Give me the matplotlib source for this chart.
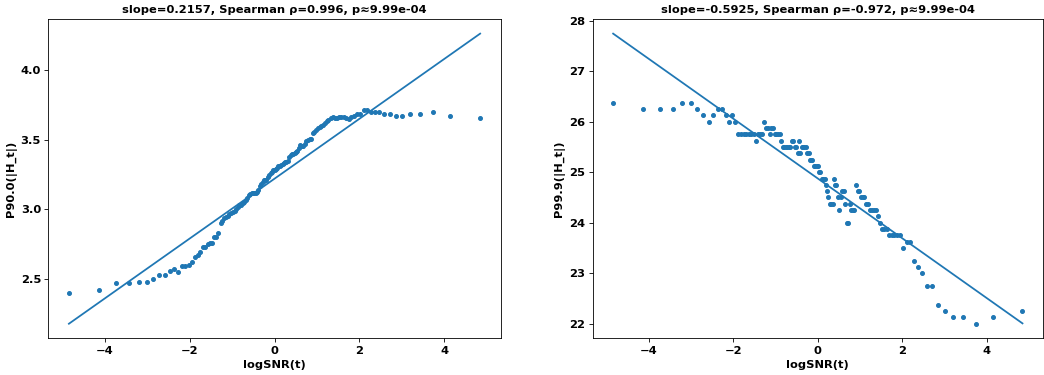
import numpy as np
import matplotlib.pyplot as plt

logsnr = [-4.84, -4.14, -3.73, -3.43, -3.20, -3.01, -2.85, -2.71, -2.58, -2.47,
          -2.36, -2.27, -2.18, -2.10, -2.02, -1.95, -1.88, -1.81, -1.75, -1.69,
          -1.63, -1.57, -1.52, -1.47, -1.42, -1.37, -1.32, -1.27, -1.23, -1.18,
          -1.14, -1.10, -1.06, -1.02, -0.98, -0.94, -0.90, -0.86, -0.83, -0.79,
          -0.75, -0.72, -0.68, -0.65, -0.61, -0.58, -0.54, -0.51, -0.48, -0.44,
          -0.41, -0.38, -0.35, -0.32, -0.28, -0.25, -0.22, -0.19, -0.16, -0.13,
          -0.09, -0.06, -0.03, 0.00, 0.03, 0.06, 0.09, 0.13, 0.16, 0.19,
          0.22, 0.25, 0.28, 0.32, 0.35, 0.38, 0.41, 0.44, 0.48, 0.51,
          0.54, 0.58, 0.61, 0.65, 0.68, 0.72, 0.75, 0.79, 0.83, 0.86,
          0.90, 0.94, 0.98, 1.02, 1.06, 1.10, 1.14, 1.18, 1.23, 1.27,
          1.32, 1.37, 1.42, 1.47, 1.52, 1.57, 1.63, 1.69, 1.75, 1.81,
          1.88, 1.95, 2.02, 2.10, 2.18, 2.27, 2.36, 2.47, 2.58, 2.71,
          2.85, 3.01, 3.20, 3.43, 3.73, 4.14, 4.84]

p90 = [2.40, 2.42, 2.47, 2.47, 2.48, 2.48, 2.50, 2.53, 2.53, 2.56,
       2.57, 2.55, 2.59, 2.59, 2.60, 2.62, 2.66, 2.67, 2.69, 2.73,
       2.73, 2.75, 2.755, 2.76, 2.80, 2.80, 2.83, 2.905, 2.92, 2.935,
       2.945, 2.955, 2.965, 2.975, 2.98, 2.985, 3.00, 3.02, 3.03, 3.035,
       3.045, 3.055, 3.065, 3.08, 3.10, 3.11, 3.12, 3.12, 3.12, 3.12,
       3.125, 3.14, 3.165, 3.18, 3.20, 3.21, 3.21, 3.215, 3.23, 3.245,
       3.26, 3.27, 3.28, 3.285, 3.29, 3.30, 3.31, 3.31, 3.32, 3.33,
       3.335, 3.34, 3.34, 3.345, 3.38, 3.395, 3.40, 3.40, 3.405, 3.41,
       3.42, 3.44, 3.465, 3.455, 3.455, 3.47, 3.49, 3.50, 3.505, 3.51,
       3.55, 3.56, 3.575, 3.585, 3.59, 3.60, 3.61, 3.62, 3.635, 3.645,
       3.66, 3.665, 3.655, 3.655, 3.665, 3.665, 3.665, 3.655, 3.65, 3.665,
       3.675, 3.685, 3.685, 3.717, 3.717, 3.70, 3.70, 3.70, 3.69, 3.69,
       3.675, 3.675, 3.685, 3.685, 3.70, 3.67, 3.655]

p999 = [26.375, 26.25, 26.25, 26.25, 26.375, 26.375, 26.25, 26.125, 26.0, 26.125,
        26.25, 26.25, 26.125, 26.0, 26.125, 26.0, 25.75, 25.75, 25.75, 25.75,
        25.75, 25.75, 25.75, 25.625, 25.75, 25.75, 25.75, 26.0, 25.875, 25.875,
        25.75, 25.875, 25.875, 25.75, 25.75, 25.75, 25.75, 25.625, 25.5, 25.5,
        25.5, 25.5, 25.5, 25.5, 25.625, 25.625, 25.5, 25.5, 25.375, 25.625,
        25.375, 25.5, 25.5, 25.5, 25.5, 25.375, 25.375, 25.25, 25.25, 25.25,
        25.125, 25.125, 25.125, 25.125, 25.0, 25.0, 24.875, 24.875, 24.875, 24.75,
        24.625, 24.5, 24.375, 24.375, 24.375, 24.875, 24.75, 24.75, 24.5, 24.25,
        24.5, 24.625, 24.625, 24.375, 24.0, 24.0, 24.375, 24.25, 24.25, 24.25,
        24.75, 24.625, 24.625, 24.5, 24.5, 24.5, 24.375, 24.375, 24.25, 24.25,
        24.25, 24.25, 24.125, 24.0, 23.875, 23.875, 23.875, 23.75, 23.75, 23.75,
        23.75, 23.75, 23.5, 23.625, 23.625, 23.25, 23.125, 23.0, 22.75, 22.75,
        22.375, 22.25, 22.125, 22.125, 22.0, 22.125, 22.25]

ylabels = ['P90.0(|H_t|)', 'P99.9(|H_t|)']
slopes = [0.2157, -0.5925]
intercepts = [3.221, 24.875]
rhos = ['0.996', '-0.972']
pvals = ['9.99e-04', '9.99e-04']


def main():
    plt.rcParams['font.size'] = 11
    plt.rcParams['font.weight'] = 'bold'
    plt.rcParams['axes.titleweight'] = 'bold'
    plt.rcParams['axes.titlesize'] = 11
    plt.rcParams['axes.labelweight'] = 'bold'

    fig = plt.figure(figsize=(13.92, 5.0), dpi=75)
    ax1 = fig.add_axes([0.0463, 0.098, 0.4333, 0.851])
    ax2 = fig.add_axes([0.5677, 0.098, 0.4313, 0.851])

    x = np.array(logsnr)
    xs = np.array([x.min(), x.max()])
    for ax, y, lab, m, b, r, p in zip([ax1, ax2], [p90, p999], ylabels,
                                      slopes, intercepts, rhos, pvals):
        ax.scatter(x, y, s=14, color='#1f77b4')
        ax.plot(xs, m * xs + b, color='#1f77b4', lw=1.7)
        ax.set_xlabel('logSNR(t)')
        ax.set_ylabel(lab)
        ax.set_title(f'slope={m:.4f}, Spearman \u03c1={r}, p\u2248{p}')

    fig.savefig('out.png', dpi=75)


if __name__ == '__main__':
    main()
